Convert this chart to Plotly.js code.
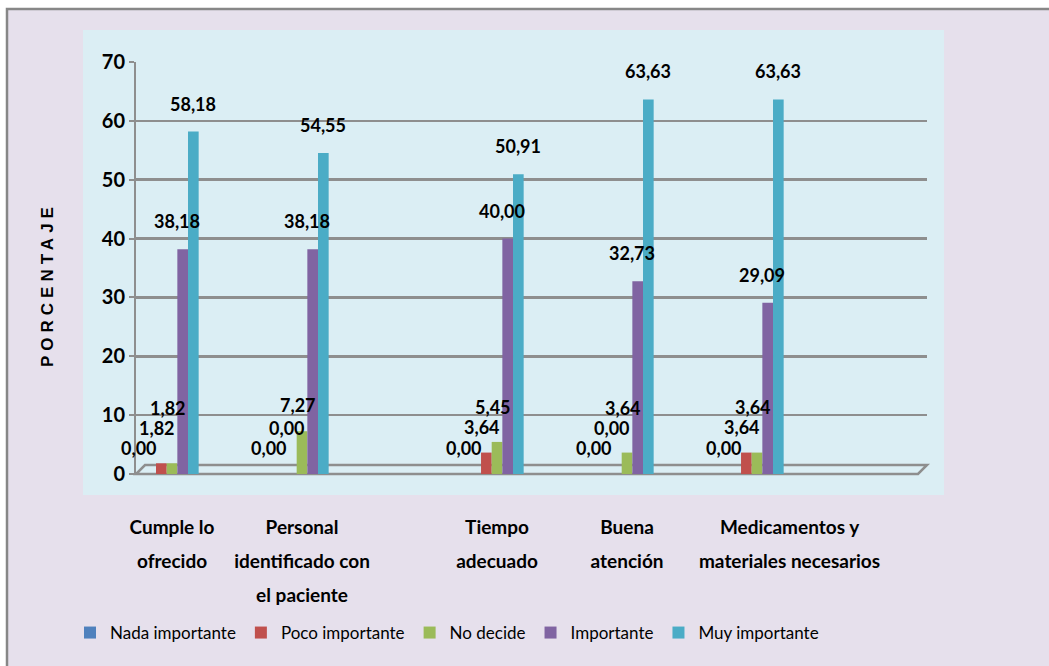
<!DOCTYPE html>
<html>
<head>
<meta charset="utf-8">
<script src="https://cdn.plot.ly/plotly-3.0.1.min.js"></script>
<style>
  html, body { margin: 0; padding: 0; background: #ffffff; }
  #chart { width: 1049px; height: 666px; }
</style>
</head>
<body>
<div id="chart"></div>
<script>
// ---- data ----
const categories = [
  "Cumple lo<br>ofrecido",
  "Personal<br>identificado con<br>el paciente",
  "Tiempo<br>adecuado",
  "Buena<br>atención",
  "Medicamentos y<br>materiales necesarios"
];
const seriesNames = ["Nada importante", "Poco importante", "No decide", "Importante", "Muy importante"];
const nadaImportante = [0.00, 0.00, 0.00, 0.00, 0.00];
const pocoImportante = [1.82, 0.00, 3.64, 0.00, 3.64];
const noDecide       = [1.82, 7.27, 5.45, 3.64, 3.64];
const importante     = [38.18, 38.18, 40.00, 32.73, 29.09];
const muyImportante  = [58.18, 54.55, 50.91, 63.63, 63.63];
const yTicks = [0, 10, 20, 30, 40, 50, 60, 70];

// ---- layout constants (positions/styles) ----
const seriesValues = [nadaImportante, pocoImportante, noDecide, importante, muyImportante];
const colors = ["#4F81BD", "#C0504D", "#9BBB59", "#8064A2", "#4BACC6"];
const slots = [0, 2, 5, 7, 9];            // group slots along the floor
const labelSlots = [0, 2, 5, 7, 9.5];     // where category labels sit
const xRange = [-0.554, 11.615];
const bargap = 0.59;
const minSpacing = 2;
const barW = (1 - bargap) * minSpacing / 5;

const W = 1049, H = 666;
const M = { l: 136, r: 122, t: 62, b: 192 };
const plotW = W - M.l - M.r, plotH = H - M.t - M.b;
const pxPerUnit = plotH / 70;
const px = (p) => (p - M.l) / plotW;      // page px -> paper x
const py = (p) => (H - M.b - p) / plotH;  // page px -> paper y

const narrow = "Lato, 'Liberation Sans', sans-serif";
const fmt = (v) => v.toFixed(2).replace('.', ',');

const traces = seriesValues.map((vals, i) => ({
  type: 'bar',
  name: seriesNames[i],
  x: slots,
  y: vals,
  marker: { color: colors[i] },
  hoverinfo: 'name+y'
}));

// data label annotations
const annotations = [];
const xShift = [-12, -4, -4, -6, 0];
for (let g = 0; g < slots.length; g++) {
  let prev = 0;
  for (let i = 0; i < seriesValues.length; i++) {
    const v = seriesValues[i][g];
    const xx = slots[g] + (i - 2) * barW;
    if (i < 3) {
      const own = v * pxPerUnit + 26;
      const lift = i === 0 ? own : Math.max(own, prev + 20);
      prev = lift;
      annotations.push({
        x: xx, y: 0, xref: 'x', yref: 'y', text: fmt(v), showarrow: false,
        yshift: lift, xshift: xShift[i], yanchor: 'middle',
        font: { family: narrow, size: 18, color: '#000', weight: 'bold' }
      });
    } else {
      annotations.push({
        x: xx, y: v, xref: 'x', yref: 'y', text: fmt(v), showarrow: false,
        yshift: 28, xshift: xShift[i], yanchor: 'middle',
        font: { family: narrow, size: 18, color: '#000', weight: 'bold' }
      });
    }
  }
}
annotations.push({
  x: px(47), y: py(285), xref: 'paper', yref: 'paper', text: 'PORCENTAJE',
  showarrow: false, textangle: -90, xanchor: 'center', yanchor: 'middle',
  font: { family: "'Liberation Sans', Arial, sans-serif", size: 17, color: '#000', weight: 'bold' }
});

const floorX1 = px(918), floorDx = 9 / plotW, floorDy = 9 / plotH;
const shapes = [
  { type: 'rect', xref: 'paper', yref: 'paper', x0: px(7), x1: px(1054), y0: py(9), y1: py(672),
    fillcolor: '#E6E0EC', line: { color: '#878787', width: 2.5 }, layer: 'below' },
  { type: 'rect', xref: 'paper', yref: 'paper', x0: px(83), x1: px(944), y0: py(30), y1: py(495),
    fillcolor: '#DBEEF4', line: { width: 0 }, layer: 'below' },
  { type: 'path', xref: 'paper', yref: 'paper',
    path: `M 0 0 L ${floorX1} 0 L ${floorX1 + floorDx} ${floorDy} L ${floorDx} ${floorDy} Z`,
    fillcolor: 'rgba(0,0,0,0)', line: { color: '#8e8e8e', width: 2.5 }, layer: 'below' }
];

const layout = {
  width: W, height: H,
  margin: M,
  paper_bgcolor: '#ffffff',
  plot_bgcolor: 'rgba(0,0,0,0)',
  barmode: 'group',
  bargap: bargap,
  bargroupgap: 0,
  showlegend: true,
  legend: {
    orientation: 'h', x: px(447), xanchor: 'center', y: py(633), yanchor: 'middle',
    bgcolor: 'rgba(0,0,0,0)', font: { family: narrow, size: 17, color: '#000' },
    itemwidth: 30, tracegroupgap: 0
  },
  xaxis: {
    range: xRange, tickvals: labelSlots, ticktext: categories, tickangle: 0,
    showgrid: false, zeroline: false, showline: false, ticks: '',
    tickfont: { family: narrow, size: 19, color: '#000', weight: 'bold' },
    ticklabelstandoff: 40, automargin: false
  },
  yaxis: {
    range: [0, 70], tickvals: yTicks, ticktext: yTicks.map(String),
    showgrid: true, gridcolor: '#8e8e8e', gridwidth: 2.5,
    zeroline: false, showline: true, linecolor: '#8e8e8e', linewidth: 2,
    ticks: 'outside', ticklen: 5, tickcolor: '#8e8e8e', tickwidth: 2,
    tickfont: { family: narrow, size: 20, color: '#000', weight: 'bold' },
    automargin: false
  },
  annotations: annotations,
  shapes: shapes
};

Plotly.newPlot('chart', traces, layout, { displayModeBar: false, staticPlot: true }).then(() => {
  document.querySelectorAll('.annotation-text').forEach(t => {
    if (t.textContent === 'PORCENTAJE') t.setAttribute('letter-spacing', '5px');
  });
  // wider line spacing for the multi-line category labels
  document.querySelectorAll('.xtick text tspan.line').forEach(ts => {
    const dy = ts.getAttribute('dy');
    if (dy && dy.endsWith('em')) ts.setAttribute('dy', (parseFloat(dy) * 1.38) + 'em');
  });
});
</script>
</body>
</html>
